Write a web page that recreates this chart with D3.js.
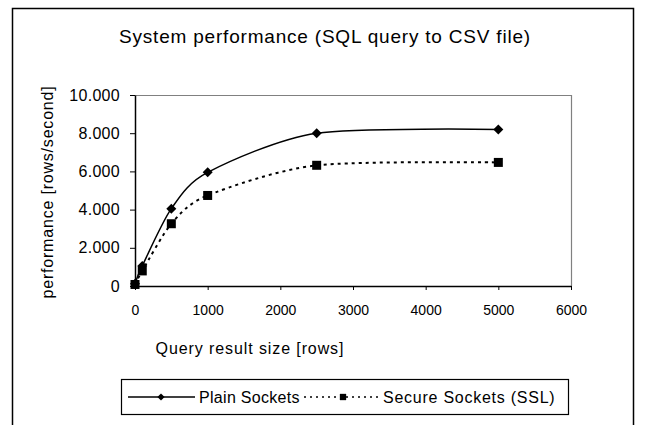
<!DOCTYPE html>
<html>
<head>
<meta charset="utf-8">
<script src="https://cdn.jsdelivr.net/npm/d3@7"></script>
<style>
  body { margin: 0; background: #fff; }
  svg text { font-family: "Liberation Sans", Arial, sans-serif; fill: #000; }
  .axis path, .axis line { stroke: #000; }
</style>
</head>
<body>
<div id="chart"></div>
<script>
// query result size in rows
var rowSizes = [0, 100, 500, 1000, 2500, 5000];
// rows/second
var plainSockets = [120, 1050, 4050, 5950, 8000, 8200];
var secureSockets = [80, 790, 3260, 4740, 6320, 6470];
var seriesNames = ["Plain Sockets", "Secure Sockets (SSL)"];
var xTicks = [0, 1000, 2000, 3000, 4000, 5000, 6000];
var yTicks = [0, 2000, 4000, 6000, 8000, 10000];

var W = 648, H = 425;
var margin = { top: 95, right: 77, bottom: 139, left: 135 };
var width = W - margin.left - margin.right;
var height = H - margin.top - margin.bottom;

var svg = d3.select("#chart").append("svg")
    .attr("width", W)
    .attr("height", H);

// outer chart frame (bottom runs off the picture)
svg.append("rect")
    .attr("x", 12.5).attr("y", 8.5)
    .attr("width", 621).attr("height", 440)
    .attr("fill", "none").attr("stroke", "#000").attr("stroke-width", 1.5);

svg.append("text")
    .attr("x", 325).attr("y", 43)
    .attr("text-anchor", "middle")
    .style("font-size", "19px")
    .style("letter-spacing", "0.8px")
    .text("System performance (SQL query to CSV file)");

var g = svg.append("g")
    .attr("transform", "translate(" + margin.left + "," + margin.top + ")");

var x = d3.scaleLinear().domain([0, 6000]).range([0, width]);
var y = d3.scaleLinear().domain([0, 10000]).range([height, 0]);

var de = d3.formatLocale({ decimal: ",", thousands: ".", grouping: [3], currency: ["", ""] });
var yFmt = de.format(",d");

// plot area border (grey top and right)
g.append("path")
    .attr("d", "M0,0.5H" + (width + 0.5) + "V" + height)
    .attr("fill", "none").attr("stroke", "#808080").attr("stroke-width", 1.2);

g.append("g")
    .attr("class", "axis axis--x")
    .attr("transform", "translate(0," + height + ")")
    .call(d3.axisBottom(x).tickValues(xTicks).tickFormat(d3.format("d")).tickSize(4).tickSizeOuter(0).tickPadding(15))
    .call(function (s) { s.selectAll("text").style("font-size", "14px"); s.select(".domain").attr("stroke-width", 1.5); });

g.append("g")
    .attr("class", "axis axis--y")
    .call(d3.axisLeft(y).tickValues(yTicks).tickFormat(yFmt).tickSize(5).tickSizeOuter(0).tickPadding(10))
    .call(function (s) { s.selectAll("text").style("font-size", "16px").style("letter-spacing", "0.3px"); s.select(".domain").attr("stroke-width", 1.5); });

svg.append("text")
    .attr("x", 250).attr("y", 354)
    .attr("text-anchor", "middle")
    .style("font-size", "16px")
    .style("letter-spacing", "0.9px")
    .text("Query result size [rows]");

svg.append("text")
    .attr("transform", "translate(53," + 192 + ") rotate(-90)")
    .attr("text-anchor", "middle")
    .style("font-size", "16px")
    .style("letter-spacing", "0.8px")
    .text("performance [rows/second]");

var plainData = rowSizes.map(function (r, i) { return { x: r, y: plainSockets[i] }; });
var secureData = rowSizes.map(function (r, i) { return { x: r, y: secureSockets[i] }; });

var line = d3.line()
    .x(function (d) { return x(d.x); })
    .y(function (d) { return y(d.y); })
    .curve(d3.curveCardinal.tension(0.2));

g.append("path")
    .datum(secureData)
    .attr("d", line)
    .attr("fill", "none").attr("stroke", "#000")
    .attr("stroke-width", 2).attr("stroke-dasharray", "3,4");

g.append("path")
    .datum(plainData)
    .attr("d", line)
    .attr("fill", "none").attr("stroke", "#000").attr("stroke-width", 1.5);

var diamond = d3.symbol().type(d3.symbolSquare).size(50);
var square = d3.symbol().type(d3.symbolSquare).size(81);

g.selectAll(".sq")
    .data(secureData)
    .enter().append("path")
    .attr("class", "sq")
    .attr("d", square)
    .attr("transform", function (d) { return "translate(" + x(d.x) + "," + y(d.y) + ")"; })
    .attr("fill", "#000");

g.selectAll(".dia")
    .data(plainData)
    .enter().append("path")
    .attr("class", "dia")
    .attr("d", diamond)
    .attr("transform", function (d) { return "translate(" + x(d.x) + "," + y(d.y) + ") rotate(45)"; })
    .attr("fill", "#000");

// legend
var lg = svg.append("g");
lg.append("rect")
    .attr("x", 121.5).attr("y", 379.5)
    .attr("width", 447).attr("height", 35)
    .attr("fill", "#fff").attr("stroke", "#000").attr("stroke-width", 1.2);

lg.append("line")
    .attr("x1", 128).attr("x2", 195).attr("y1", 397).attr("y2", 397)
    .attr("stroke", "#000").attr("stroke-width", 1.5);
lg.append("path")
    .attr("d", d3.symbol().type(d3.symbolSquare).size(26))
    .attr("transform", "translate(161,397) rotate(45)")
    .attr("fill", "#000");
lg.append("text")
    .attr("x", 199).attr("y", 403)
    .style("font-size", "16px")
    .style("letter-spacing", "0.3px")
    .text(seriesNames[0]);

lg.append("line")
    .attr("x1", 304).attr("x2", 378).attr("y1", 397).attr("y2", 397)
    .attr("stroke", "#000").attr("stroke-width", 1.5).attr("stroke-dasharray", "2,4");
lg.append("path")
    .attr("d", d3.symbol().type(d3.symbolSquare).size(40))
    .attr("transform", "translate(343,397)")
    .attr("fill", "#000");
lg.append("text")
    .attr("x", 383).attr("y", 403)
    .style("font-size", "16px")
    .style("letter-spacing", "0.75px")
    .text(seriesNames[1]);
</script>
</body>
</html>
